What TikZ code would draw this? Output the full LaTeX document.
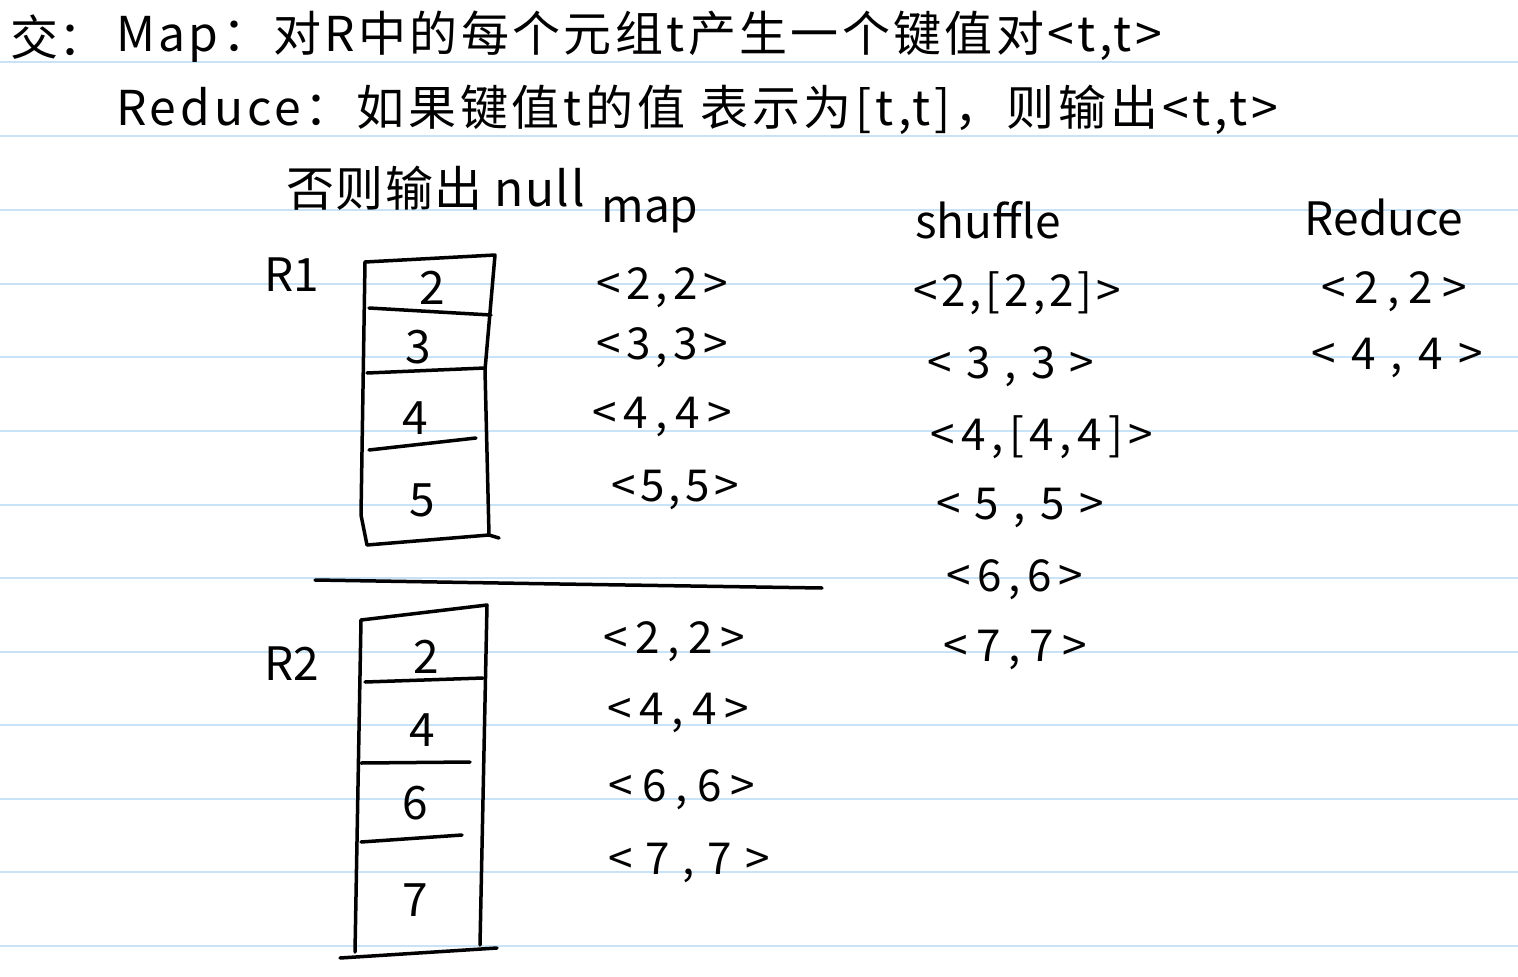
\documentclass[tikz,border=0pt]{standalone}
\usepackage{fontspec}
\setmainfont{Noto Sans CJK SC}
\definecolor{ruleblue}{RGB}{200,226,246}
\begin{document}
\begin{tikzpicture}[x=1pt,y=-1pt,
  head/.style={inner sep=0pt, anchor=west, font=\fontsize{48}{52}\selectfont\addfontfeature{LetterSpace=#1}},
  head/.default=0,
  lbl/.style={inner sep=0pt, font=\fontsize{46}{50}\selectfont},
  pair/.style={inner sep=0pt, font=\fontsize{44}{48}\selectfont\addfontfeature{LetterSpace=#1}},
  pair/.default=12,
  num/.style={inner sep=0pt, font=\fontsize{46}{50}\selectfont},
  pen/.style={line width=3.5pt, line cap=round, line join=round},
  rulel/.style={line width=2pt, draw=ruleblue}]
\useasboundingbox (0,0) rectangle (1518,977);
\fill[white] (0,0) rectangle (1518,977);
\foreach \yy in {62,136,210,284,357,431,505,578,652,725,799,872,946}
  \draw[rulel] (0,\yy) -- (1518,\yy);

% header
\node[head] (jiao) at (10,37) {交：};
\node[head=7] (l1) at (116,37) {Map：对R中的每个元组t产生一个键值对<t,t>};
\node[head=8] (l2) at (116,110) {Reduce：如果键值t的值 表示为[t,t]，则输出<t,t>};
\node[head=3] (l3) at (286,188) {否则输出 null};

% column headings
\node[lbl] (hmap) at (650,215) {map};
\node[lbl] (hshuf) at (988,220) {shuffle};
\node[lbl] (hred) at (1384,217) {Reduce};

% R1
\node[lbl] (r1) at (292,275) {R1};
\draw[pen] (365,262) -- (495,255) -- (485,370) -- (489,535) -- (499,538);
\draw[pen] (365,262) -- (361,515) -- (367,545) -- (489,535);
\draw[pen] (369,308) -- (491,315);
\draw[pen] (367,373) -- (485,368);
\draw[pen] (369,450) -- (476,438);
\node[num] (a2) at (432,288) {2};
\node[num] (a3) at (418,347) {3};
\node[num] (a4) at (415,418) {4};
\node[num] (a5) at (422,500) {5};

\draw[pen] (315,580) -- (560,584) -- (822,588);

% R2
\node[lbl] (r2) at (292,664) {R2};
\draw[pen] (361,620) -- (487,605) -- (480,945);
\draw[pen] (361,620) -- (355,952);
\draw[pen] (340,958) -- (497,948);
\draw[pen] (365,682) -- (483,678);
\draw[pen] (361,763) -- (470,762);
\draw[pen] (361,842) -- (462,835);
\node[num] (b2) at (426,657) {2};
\node[num] (b4) at (422,730) {4};
\node[num] (b6) at (415,803) {6};
\node[num] (b7) at (415,900) {7};

% map column
\node[pair=12] (m1) at (662,288) {<2,2>};
\node[pair=12] (m2) at (662,348) {<3,3>};
\node[pair=17] (m3) at (662,417) {<4,4>};
\node[pair=10] (m4) at (675,490) {<5,5>};
\node[pair=18] (m5) at (674,642) {<2,2>};
\node[pair=18] (m6) at (678,713) {<4,4>};
\node[pair=21] (m7) at (682,790) {<6,6>};
\node[pair=29] (m8) at (689,863) {<7,7>};

% shuffle column
\node[pair=9] (s1) at (1017,293) {<2,[2,2]>};
\node[pair=32] (s2) at (1011,367) {<3,3>};
\node[pair=13] (s3) at (1042,437) {<4,[4,4]>};
\node[pair=33] (s4) at (1020,508) {<5,5>};
\node[pair=15] (s5) at (1015,580) {<6,6>};
\node[pair=19] (s6) at (1015,650) {<7,7>};

% reduce column
\node[pair=20] (o1) at (1394,292) {<2,2>};
\node[pair=35] (o2) at (1397,358) {<4,4>};
\end{tikzpicture}
\end{document}
